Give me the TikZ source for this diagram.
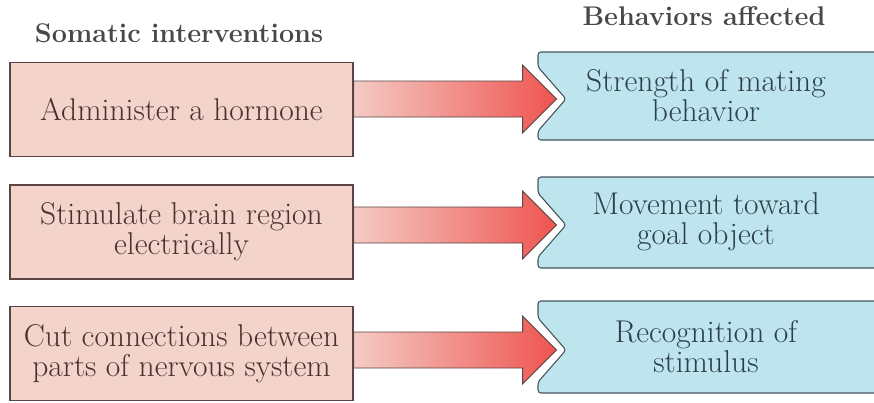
\documentclass[tikz,border=0pt]{standalone}
\usepackage{fontspec}
\usetikzlibrary{calc}
\definecolor{pinkfill}{HTML}{F4D3CB}
\definecolor{pinkline}{HTML}{5A4444}
\definecolor{pinktext}{HTML}{4E3030}
\definecolor{bluefill}{HTML}{BEE5EE}
\definecolor{blueline}{HTML}{46565E}
\definecolor{bluetext}{HTML}{2C3F4E}
\definecolor{arrowlight}{HTML}{F4CBC4}
\definecolor{arrowdark}{HTML}{EE5450}
\definecolor{headgray}{HTML}{484848}
\begin{document}
\begin{tikzpicture}[x=1pt,y=-1pt,
  pinkbox/.style={draw=pinkline, line width=1.1pt, fill=pinkfill, text=pinktext, align=center,
    font=\fontsize{31.5}{30}\selectfont, minimum width=343pt, minimum height=94pt, inner sep=0pt},
  bluelabel/.style={text=bluetext, align=center, font=\fontsize{31.5}{30}\selectfont, inner sep=0pt},
  heading/.style={text=headgray, font=\bfseries\fontsize{27}{30}\selectfont, anchor=base},
  blueshape/.style={draw=blueline, line width=1.1pt, fill=bluefill, rounded corners=3pt},
  bigarrow/.style={draw=pinkline, line width=0.9pt, left color=arrowlight, right color=arrowdark}]
\useasboundingbox (0,0) rectangle (874,402);
\clip (0,0) rectangle (874,402);
\fill[white] (0,0) rectangle (874,402);

% blue behaviour shapes (notched left side, running off the right edge)
\foreach \T/\B/\C in {52/140/99, 177/268/225, 301/393/350}{
  \draw[blueshape] (890,\T) -- (538,\T) -- (538,\C-32) -- (566,\C) -- (538,\C+32)
    -- (538,\B) -- (890,\B) -- cycle;
}

\node[heading] (h1) at (179,42) {Somatic interventions};
\node[heading] (h2) at (704,25) {Behaviors affected};

\node[pinkbox] (p1) at (181.5,109.5) {Administer a hormone};
\node[pinkbox] (p2) at (181.5,232) {Stimulate brain region\\electrically};
\node[pinkbox] (p3) at (181.5,353.5) {Cut connections between\\parts of nervous system};

\node[bluelabel] (b1) at (706,96) {Strength of mating\\behavior};
\node[bluelabel] (b2) at (706,222) {Movement toward\\goal object};
\node[bluelabel] (b3) at (706,347) {Recognition of\\stimulus};

\foreach \i in {1,2,3}{
  \draw[bigarrow] ($(p\i.east |- b\i.west)+(0,-15)$) -- ++(169,0) -- ++(0,-16)
    -- ++(34,34) -- ++(-34,34) -- ++(0,-16) -- ++(-169,0) -- cycle;
}
\end{tikzpicture}
\end{document}
